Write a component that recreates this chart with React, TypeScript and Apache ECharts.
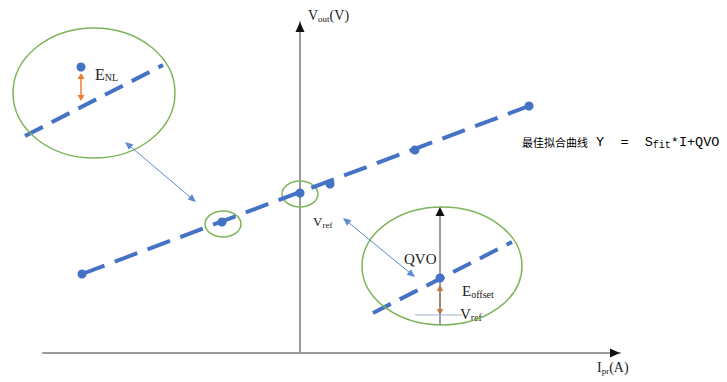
import React, { useEffect, useRef } from "react";
import * as echarts from "echarts";

// Data coordinates: 1 unit = 10 px, origin at the axes crossing
const fitLine: number[][] = [[-21.8, 7.9], [22.9, 24.7]];
const samplePoints: number[][] = [
  [-21.8, 7.9], [-7.8, 13.1], [0, 16.0], [3.0, 16.9], [11.5, 20.3], [22.9, 24.7],
];
// Inset illustrations: dashed segments x1, y1, x2, y2
const insetSegments: number[][] = [
  [-27.5, 21.7, -13.7, 28.8],
  [7.3, 4.0, 21.2, 11.1],
];
const insetPoints: number[][] = [[-21.9, 28.6], [14.0, 7.5]];
const rightInsetRefLine: number[][] = [[11.5, 3.8], [16.2, 3.8]];
// Ellipses: cx, cy, rx, ry
const ellipses: number[][] = [
  [-20.6, 26.0, 8.1, 6.5],
  [-7.7, 12.9, 1.8, 1.3],
  [0, 15.9, 1.8, 1.3],
  [14.2, 8.7, 8.0, 5.9],
];
// Arrows: x1, y1, x2, y2, style (0 blue double, 1 orange double, 2 black single, 3 head only)
const arrows: number[][] = [
  [-17.5, 21.1, -10.4, 15.1, 0],
  [4.3, 13.5, 11.5, 7.6, 0],
  [-21.9, 28.0, -21.9, 25.2, 1],
  [14.0, 6.8, 14.0, 3.8, 1],
  [14.0, 2.8, 14.0, 14.6, 2],
  [0, 32.0, 0, 33.1, 3],
  [31.0, 0, 32.0, 0, 3],
];

const BLUE = "#4472C4";
const GREEN = "#7DB55A";
const ORANGE = "#ED7D31";

export default function App() {
  const ref = useRef<HTMLDivElement>(null);
  useEffect(() => {
    const chart = echarts.init(ref.current!, null, { renderer: "svg" });
    const arrowStyles = [
      { stroke: "#5B8BD0", lw: 1, head: 8, hw: 3.5, both: true, showLine: true },
      { stroke: ORANGE, lw: 1.5, head: 6, hw: 3.5, both: true, showLine: true },
      { stroke: "#7f7f7f", lw: 1.5, head: 9, hw: 4.5, both: false, showLine: true, headColor: "#111" },
      { stroke: "#111", lw: 0, head: 10, hw: 4.5, both: false, showLine: false, headColor: "#111" },
    ];
    const serif = "'Liberation Serif', 'DejaVu Serif', serif";
    const txt = (x: number, y: number, text: string, size: number) => ({
      type: "text", x, y,
      style: { text, fontSize: size, fontFamily: serif, fill: "#222", textVerticalAlign: "middle" },
    });
    // base text, subscript, trailing text; widths in em (Times metrics)
    const subLabel = (x: number, y: number, b: string, bw: number, size: number, s: string, sw: number, ssize: number, a?: string) => {
      const els: any[] = [txt(x, y, b, size), txt(x + bw * size, y + 3.5, s, ssize)];
      if (a) els.push(txt(x + bw * size + sw * ssize, y, a, size));
      return els;
    };
    chart.setOption({
      animation: false,
      grid: { left: 43, top: 22, width: 577, height: 331 },
      xAxis: {
        type: "value", min: -25.7, max: 32.0,
        axisLine: { lineStyle: { color: "#9a9a9a", width: 2 } },
        axisTick: { show: false }, axisLabel: { show: false }, splitLine: { show: false },
      },
      yAxis: {
        type: "value", min: 0, max: 33.1,
        axisLine: { show: true, onZero: true, lineStyle: { color: "#9a9a9a", width: 2 } },
        axisTick: { show: false }, axisLabel: { show: false }, splitLine: { show: false },
      },
      series: [
        {
          type: "line", data: fitLine, symbol: "none",
          lineStyle: { color: BLUE, width: 4, type: [24, 11] },
        },
        {
          type: "scatter", data: samplePoints, symbolSize: 9,
          itemStyle: { color: BLUE, opacity: 1 },
        },
        {
          type: "custom", clip: false, data: insetSegments, encode: { x: [0, 2], y: [1, 3] },
          renderItem: (params: any, api: any) => {
            const p1 = api.coord([api.value(0), api.value(1)]);
            const p2 = api.coord([api.value(2), api.value(3)]);
            return {
              type: "line",
              shape: { x1: p1[0], y1: p1[1], x2: p2[0], y2: p2[1] },
              style: { stroke: BLUE, lineWidth: 4, lineDash: [20, 10] },
            };
          },
        },
        {
          type: "line", data: rightInsetRefLine, symbol: "none",
          lineStyle: { color: "#9db0c8", width: 1.2 },
        },
        {
          type: "custom", clip: false, data: ellipses, encode: { x: 0, y: 1 },
          renderItem: (params: any, api: any) => {
            const c = api.coord([api.value(0), api.value(1)]);
            const s = api.size([api.value(2), api.value(3)]);
            return {
              type: "ellipse",
              shape: { cx: c[0], cy: c[1], rx: s[0], ry: s[1] },
              style: { fill: "none", stroke: GREEN, lineWidth: 1.5 },
            };
          },
        },
        {
          type: "custom", clip: false, data: arrows, encode: { x: [0, 2], y: [1, 3] },
          renderItem: (params: any, api: any) => {
            const p1 = api.coord([api.value(0), api.value(1)]);
            const p2 = api.coord([api.value(2), api.value(3)]);
            const st: any = arrowStyles[api.value(4)];
            const dx = p2[0] - p1[0], dy = p2[1] - p1[1];
            const len = Math.sqrt(dx * dx + dy * dy);
            const ux = dx / len, uy = dy / len;
            const head = (tip: number[], dirx: number, diry: number) => {
              const bx = tip[0] - dirx * st.head, by = tip[1] - diry * st.head;
              return {
                type: "polygon",
                shape: { points: [tip, [bx - diry * st.hw, by + dirx * st.hw], [bx + diry * st.hw, by - dirx * st.hw]] },
                style: { fill: st.headColor || st.stroke },
              };
            };
            const children: any[] = [];
            if (st.showLine) {
              const a = st.both ? [p1[0] + ux * st.head * 0.8, p1[1] + uy * st.head * 0.8] : p1;
              const b = [p2[0] - ux * st.head * 0.8, p2[1] - uy * st.head * 0.8];
              children.push({ type: "line", shape: { x1: a[0], y1: a[1], x2: b[0], y2: b[1] }, style: { stroke: st.stroke, lineWidth: st.lw } });
            }
            children.push(head(p2, ux, uy));
            if (st.both) children.push(head(p1, -ux, -uy));
            return { type: "group", children };
          },
        },
        {
          type: "scatter", data: insetPoints, symbolSize: 9, clip: false, z: 5,
          itemStyle: { color: BLUE, opacity: 1 },
        },
      ],
      graphic: [
        ...subLabel(308, 15, "V", 0.722, 14, "out", 1.278, 9, "(V)"),
        ...subLabel(597, 367, "I", 0.333, 14, "pr", 0.833, 9, "(A)"),
        ...subLabel(95, 74, "E", 0.611, 16, "NL", 1.333, 10),
        ...subLabel(313, 221, "V", 0.722, 13, "ref", 1.11, 9),
        txt(404, 259, "QVO", 15),
        ...subLabel(462, 291, "E", 0.611, 15, "offset", 2.277, 10),
        ...subLabel(460, 314, "V", 0.722, 15, "ref", 1.11, 10),
        {
          type: "text", x: 522, y: 142,
          style: {
            text: "{c|最佳拟合曲线}{m| Y  =  S}{f|fit}{m|*I+QVO}",
            textVerticalAlign: "middle",
            rich: {
              c: { fontFamily: "'Noto Sans CJK SC'", fontSize: 11, color: "#555", verticalAlign: "middle", lineHeight: 16 },
              m: { fontFamily: "'Liberation Mono', monospace", fontSize: 13.5, color: "#555", verticalAlign: "middle", lineHeight: 16 },
              f: { fontFamily: "'Liberation Mono', monospace", fontSize: 10, color: "#555", verticalAlign: "bottom", lineHeight: 12 },
            },
          },
        },
      ],
    });
    return () => chart.dispose();
  }, []);
  return <div ref={ref} style={{ width: 727, height: 382, position: "absolute", left: 0, top: 0, background: "#fff" }} />;
}
